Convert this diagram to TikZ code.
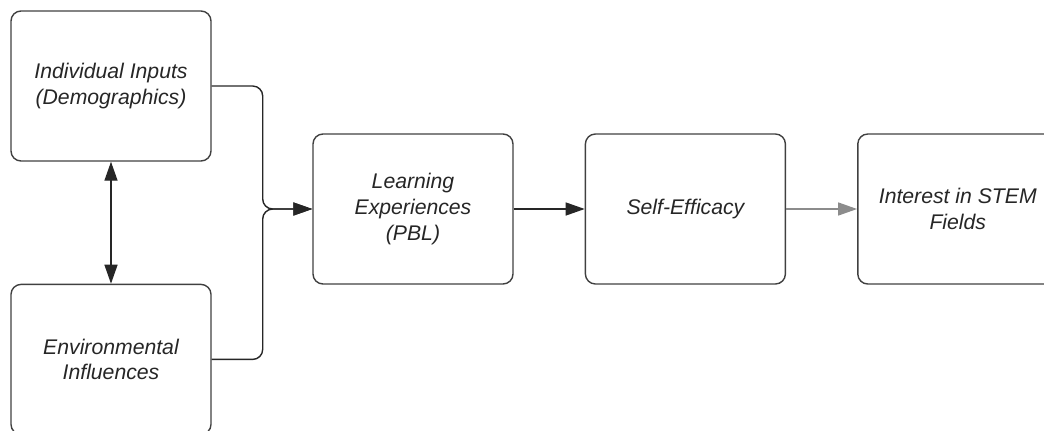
\documentclass[tikz,border=0pt]{standalone}
\usepackage{fontspec}
\setmainfont{Liberation Sans}
\usetikzlibrary{shapes.geometric, arrows.meta, positioning}

\begin{document}
\begin{tikzpicture}[node distance=35.5pt]
    % Styles
    \tikzstyle{stage} = [rectangle, rounded corners=5pt, minimum width=100pt, minimum height=75pt, align=center, draw=black!75, line width=0.7pt, text=black!85, font=\fontsize{10.6pt}{12.9pt}\selectfont\itshape]
    \tikzstyle{arrow} = [line width=0.7pt, draw=black!85, -{Triangle[length=9.5pt,width=6.5pt]}]
    \tikzstyle{softarrow} = [arrow, draw=black!45]

    % Frame (boxes run past the edges)
    \useasboundingbox (-55.5pt,43pt) rectangle (466.5pt,-172pt);
    \clip (-55.5pt,43pt) rectangle (466.5pt,-172pt);

    % Nodes
    \node (inputs) [stage] {Individual Inputs\\(Demographics)};
    \node (env) [stage, below=61pt of inputs] {Environmental\\Influences};
    \node (learn) [stage] at (151pt,-61.5pt) {Learning\\Experiences\\(PBL)};
    \node (efficacy) [stage, right=of learn] {Self-Efficacy};
    \node (interest) [stage, right=of efficacy] {Interest in STEM\\Fields};

    % Arrows
    \draw [arrow, {Triangle[length=9.5pt,width=6.5pt]}-{Triangle[length=9.5pt,width=6.5pt]}] (inputs) -- (env);
    \draw [arrow, rounded corners=5pt] (inputs.east) -- ++(25.5pt,0) |- (learn.west);
    \draw [arrow, rounded corners=5pt] (env.east) -- ++(25.5pt,0) |- (learn.west);
    \draw [arrow] (learn) -- (efficacy);
    \draw [softarrow] (efficacy) -- (interest);

\end{tikzpicture}
\end{document}
